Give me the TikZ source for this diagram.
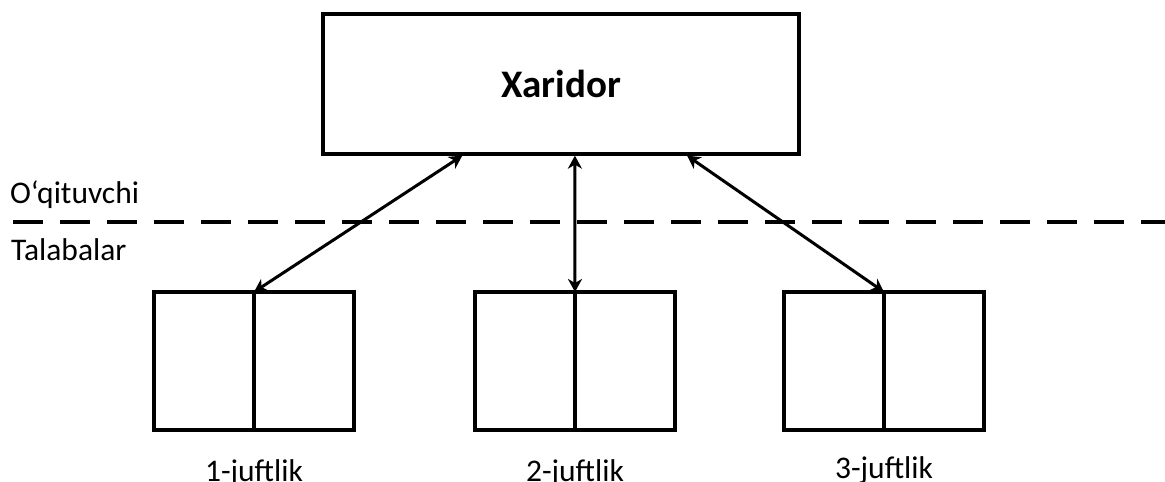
\documentclass[tikz,border=0pt]{standalone}
\usepackage{fontspec}
\setmainfont{Carlito}
\usetikzlibrary{arrows.meta,calc}
\begin{document}
\begin{tikzpicture}[x=1pt,y=-1pt,
  mainbox/.style={draw,line width=3.3pt,minimum width=476pt,minimum height=140pt,inner sep=0pt,font=\bfseries\fontsize{39}{46}\selectfont},
  half/.style={draw,line width=3.3pt,minimum width=100pt,minimum height=138pt,inner sep=0pt,outer sep=0pt},
  link/.style={line width=3pt,{Stealth[length=13pt,width=14pt,inset=4pt]}-{Stealth[length=13pt,width=14pt,inset=4pt]}},
  sep/.style={line width=3.3pt,dash pattern=on 30pt off 17pt},
  lbl/.style={font=\fontsize{31.5}{36}\selectfont,inner sep=0pt},
]
\useasboundingbox (0,0) rectangle (1165,482);
\node[mainbox] (xar) at (561,84) {Xaridor};
\coordinate (a1) at ($(xar.south west)!0.294!(xar.south east)$);
\coordinate (a2) at ($(xar.south west)!0.529!(xar.south east)$);
\coordinate (a3) at ($(xar.south west)!0.763!(xar.south east)$);
% pairs
\node[half] (p1l) at (204,361) {};
\node[half] (p1r) at (304,361) {};
\node[half] (p2l) at (525,361) {};
\node[half] (p2r) at (625,361) {};
\node[half] (p3l) at (834,361) {};
\node[half] (p3r) at (934,361) {};
% arrows
\draw[link] (a1) -- (p1l.north east);
\draw[link] (a2) -- (p2l.north east);
\draw[link] (a3) -- (p3l.north east);
% separator
\coordinate (dl) at (13,222);
\coordinate (dr) at (1165,222);
\draw[sep] (dl) -- (dr);
% labels
\node[lbl,anchor=base west] (teach) at (10,203) {O‘qituvchi};
\node[lbl,anchor=base west] (stud) at (11,260) {Talabalar};
\node[lbl,anchor=base] (j1) at (254,481) {1-juftlik};
\node[lbl,anchor=base] (j2) at (575,481) {2-juftlik};
\node[lbl,anchor=base] (j3) at (884,478) {3-juftlik};
\end{tikzpicture}
\end{document}
